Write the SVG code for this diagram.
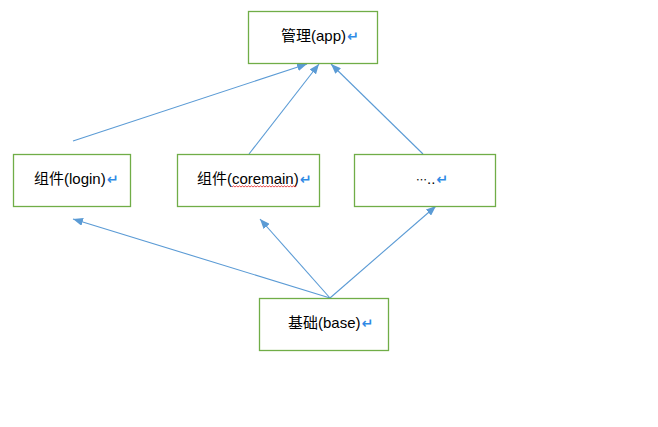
<svg xmlns="http://www.w3.org/2000/svg" width="658" height="427" viewBox="0 0 658 427">
<style>
.box{fill:#fff;stroke:#70ad47;stroke-width:1.3}
.lbl{font-family:"Liberation Sans","Noto Sans CJK SC",sans-serif;font-size:15px;fill:#000}
.ret{font-family:"DejaVu Sans",sans-serif;font-size:14px;font-weight:bold;fill:#2f8ae5}
.edge{stroke:#5b9bd5;stroke-width:1.1;fill:none;marker-end:url(#ah)}
</style>
<defs>
<marker id="ah" viewBox="0 0 10 8" refX="10" refY="4" markerWidth="10" markerHeight="8" markerUnits="userSpaceOnUse" orient="auto">
<path d="M0,0 L10,4 L0,8 Z" fill="#5b9bd5"/>
</marker>
</defs>
<rect width="658" height="427" fill="#fff"/>
<g id="connectors">
<line class="edge" x1="73" y1="141" x2="307" y2="64"/>
<line class="edge" x1="249" y1="154" x2="319" y2="64"/>
<line class="edge" x1="423" y1="154" x2="331" y2="64"/>
<line class="edge" x1="330" y1="298" x2="73" y2="219"/>
<line class="edge" x1="330" y1="298" x2="260" y2="219"/>
<line class="edge" x1="330" y1="298" x2="436" y2="206"/>
</g>
<g id="app">
<rect class="box" x="248.5" y="11.5" width="129" height="52"/>
<text class="lbl" x="281" y="41">管理(app)<tspan class="ret" dx="1">↵</tspan></text>
</g>
<g id="login">
<rect class="box" x="13.5" y="154.5" width="117" height="52"/>
<text class="lbl" x="34" y="184">组件(login)<tspan class="ret" dx="1">↵</tspan></text>
</g>
<g id="coremain">
<rect class="box" x="177.5" y="154.5" width="142" height="52"/>
<text class="lbl" x="197" y="184">组件(coremain)<tspan class="ret" dx="1">↵</tspan></text>
<path d="M232,187 l1.5,-1.2 l1.5,1.2 l1.5,-1.2 l1.5,1.2 l1.5,-1.2 l1.5,1.2 l1.5,-1.2 l1.5,1.2 l1.5,-1.2 l1.5,1.2 l1.5,-1.2 l1.5,1.2 l1.5,-1.2 l1.5,1.2 l1.5,-1.2 l1.5,1.2 l1.5,-1.2 l1.5,1.2 l1.5,-1.2 l1.5,1.2 l1.5,-1.2 l1.5,1.2 l1.5,-1.2 l1.5,1.2 l1.5,-1.2 l1.5,1.2 l1.5,-1.2 l1.5,1.2 l1.5,-1.2 l1.5,1.2 l1.5,-1.2 l1.5,1.2 l1.5,-1.2 l1.5,1.2 l1.5,-1.2 l1.5,1.2 l1.5,-1.2 l1.5,1.2 l1.5,-1.2 l1.5,1.2 l1.5,-1.2 l1.5,1.2 l1.5,-1.2" fill="none" stroke="#e02020" stroke-width="0.8"/>
</g>
<g id="more">
<rect class="box" x="354.5" y="154.5" width="141" height="52"/>
<text class="lbl" x="416" y="184"><tspan font-family="'Noto Sans CJK SC',sans-serif" font-size="11">…</tspan>..<tspan class="ret" dx="1">↵</tspan></text>
</g>
<g id="base">
<rect class="box" x="259.5" y="298.5" width="129" height="52"/>
<text class="lbl" x="288" y="328">基础(base)<tspan class="ret" dx="1">↵</tspan></text>
</g>
</svg>
